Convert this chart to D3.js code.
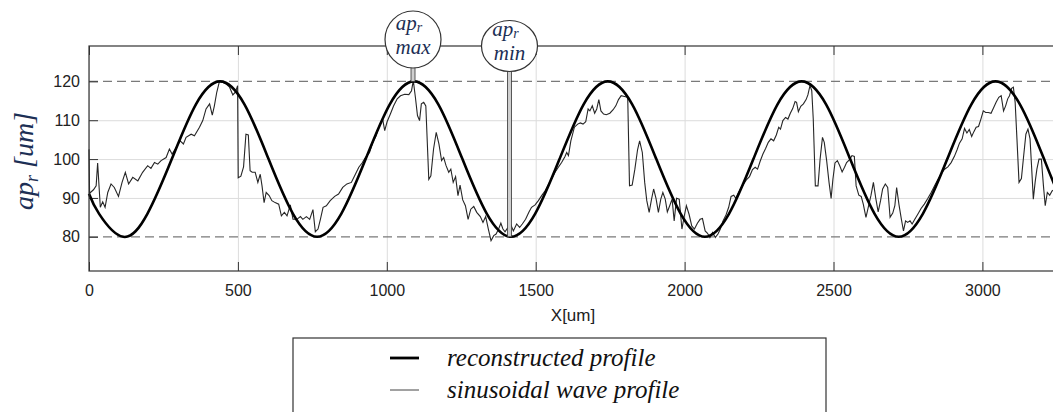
<html>
<head>
    <meta charset="UTF-8" />
    <script src="https://d3js.org/d3.v7.min.js"></script>
    <style>
        body { margin: 0; background: white; }
        .gridlines line { stroke: #dcdcdc; }
        .gridlines .domain { stroke: none; }
        .axis text { font-family: "Liberation Sans", Arial, sans-serif; font-size: 16px; fill: #222; }
        .axis line { stroke: #333; }
        .axis .domain { stroke: none; }
        .serif { font-family: "Liberation Serif", "Times New Roman", serif; font-style: italic; }
    </style>
</head>
<body>
<svg id="svg1" width="1053" height="412"></svg>
<script>
    // tick values
    const xTicks = [0, 500, 1000, 1500, 2000, 2500, 3000];
    const yTicks = [80, 90, 100, 110, 120];
    const dashedLevels = [80, 120];

    // reconstructed profile (read at peaks, troughs and between)
    const reconX = [0, 34, 115, 196, 278, 359, 440, 522, 603, 685, 766, 847, 929, 1010, 1091, 1173, 1254, 1336,
        1417, 1498, 1580, 1661, 1742, 1824, 1905, 1987, 2068, 2149, 2231, 2312, 2393, 2475, 2556, 2638,
        2719, 2800, 2882, 2963, 3044, 3126, 3207, 3289, 3370];
    const reconY = [91.1, 85.9, 80, 85.9, 100, 114.1, 120, 114.1, 100, 85.9, 80, 85.9, 100, 114.1, 120, 114.1, 100, 85.9,
        80, 85.9, 100, 114.1, 120, 114.1, 100, 85.9, 80, 85.9, 100, 114.1, 120, 114.1, 100, 85.9,
        80, 85.9, 100, 114.1, 120, 114.1, 100, 85.9, 80];

    // sinusoidal wave profile (measured, noisy)
    const waveX = [0, 2, 15, 24, 29, 38, 46, 54, 63, 74, 85, 99, 111, 122, 133, 147, 164, 180, 197, 208, 220, 231, 242,
        259, 270, 279, 293, 306, 317, 326, 343, 354, 371, 382, 393, 405, 414, 421, 429, 438, 450, 461, 472, 483,
        492, 499, 501, 510, 519, 527, 535, 541, 548, 558, 567, 575, 581, 588, 595, 605, 614, 625, 637, 646, 656,
        665, 676, 685, 698, 710, 718, 730, 741, 752, 760, 769, 777, 786, 797, 810, 825, 838, 852, 866, 881, 892,
        906, 917, 928, 942, 953, 964, 975, 986, 993, 1001, 1012, 1023, 1035, 1046, 1060, 1074, 1083, 1089, 1096,
        1103, 1110, 1116, 1124, 1131, 1141, 1148, 1157, 1166, 1175, 1184, 1191, 1199, 1208, 1215, 1223, 1231,
        1239, 1246, 1255, 1264, 1273, 1282, 1292, 1302, 1314, 1323, 1332, 1341, 1350, 1359, 1367, 1376, 1383,
        1390, 1397, 1404, 1417, 1425, 1436, 1446, 1455, 1466, 1477, 1486, 1498, 1509, 1520, 1531, 1542, 1554,
        1565, 1576, 1587, 1598, 1604, 1610, 1618, 1630, 1641, 1650, 1659, 1668, 1676, 1682, 1690, 1698, 1705,
        1712, 1719, 1728, 1737, 1749, 1760, 1769, 1778, 1787, 1798, 1809, 1815, 1824, 1833, 1842, 1849, 1858,
        1866, 1873, 1881, 1889, 1896, 1904, 1912, 1920, 1927, 1935, 1942, 1950, 1958, 1965, 1973, 1982, 1991,
        1999, 2006, 2015, 2024, 2033, 2043, 2052, 2060, 2069, 2077, 2085, 2094, 2103, 2112, 2120, 2129, 2139,
        2148, 2156, 2165, 2172, 2181, 2190, 2200, 2209, 2218, 2228, 2237, 2245, 2254, 2263, 2272, 2281, 2290,
        2299, 2308, 2316, 2322, 2330, 2339, 2347, 2355, 2363, 2371, 2376, 2382, 2390, 2399, 2408, 2414, 2421,
        2427, 2432, 2439, 2448, 2455, 2463, 2469, 2477, 2485, 2492, 2498, 2505, 2513, 2521, 2529, 2537, 2544,
        2553, 2562, 2570, 2576, 2585, 2593, 2600, 2609, 2618, 2626, 2634, 2642, 2650, 2658, 2665, 2674, 2682,
        2690, 2699, 2706, 2712, 2720, 2728, 2735, 2742, 2749, 2757, 2764, 2773, 2783, 2794, 2805, 2817, 2828,
        2839, 2850, 2862, 2873, 2884, 2895, 2906, 2915, 2923, 2932, 2940, 2948, 2956, 2964, 2971, 2979, 2987,
        2995, 3003, 3011, 3020, 3029, 3038, 3046, 3055, 3063, 3071, 3078, 3085, 3091, 3098, 3104, 3110, 3116,
        3123, 3131, 3138, 3146, 3153, 3160, 3165, 3171, 3177, 3183, 3190, 3198, 3205, 3211, 3218, 3226, 3234, 3241];
    const waveY = [102.5, 91.2, 92.1, 93.1, 99.0, 87.6, 89.0, 87.6, 91.4, 93.6, 92.7, 90.4, 94.0, 96.6, 93.6, 95.3, 94.4,
        96.6, 98.3, 97.6, 99.1, 98.7, 99.6, 100.4, 102.6, 101.3, 103.0, 104.7, 103.9, 105.6, 106.4, 106.0, 108.2,
        109.9, 112.9, 114.2, 111.3, 113.7, 117.2, 120.0, 119.7, 119.3, 118.5, 116.5, 117.3, 118.9, 95.2, 95.6,
        98.0, 106.4, 106.2, 97.0, 96.6, 96.6, 94.0, 96.1, 93.1, 88.8, 91.4, 90.6, 89.3, 88.8, 88.4, 85.4, 86.3,
        85.4, 88.2, 84.5, 84.5, 85.2, 84.5, 85.2, 84.5, 87.0, 81.3, 82.0, 84.5, 87.6, 88.0, 89.3, 90.4, 91.0,
        92.7, 93.6, 94.0, 95.7, 97.9, 99.0, 100.4, 101.7, 104.3, 106.0, 108.6, 110.3, 107.3, 109.6, 111.6, 113.7,
        115.5, 116.3, 116.7, 116.6, 117.6, 120.2, 115.9, 111.2, 109.9, 114.2, 114.6, 113.7, 94.8, 95.7, 102.6,
        106.9, 103.9, 99.6, 100.4, 98.3, 96.6, 97.4, 94.0, 95.5, 90.6, 93.3, 89.5, 88.0, 84.5, 87.1, 87.8, 86.3,
        85.2, 83.7, 85.2, 82.0, 79.0, 80.3, 80.7, 82.1, 83.5, 82.0, 81.3, 82.1, 83.0, 81.5, 83.3, 82.4, 83.3,
        84.5, 86.3, 87.6, 88.2, 89.3, 90.6, 91.8, 93.3, 95.0, 96.6, 97.9, 99.1, 100.6, 101.7, 100.9, 104.7,
        108.2, 109.0, 109.3, 109.0, 109.6, 112.9, 112.4, 113.7, 111.8, 112.9, 115.3, 112.4, 111.6, 111.4, 111.8,
        112.7, 113.7, 115.3, 116.3, 116.1, 115.9, 93.1, 93.3, 97.4, 102.4, 104.7, 101.7, 94.0, 89.3, 86.3, 89.7,
        92.3, 89.9, 86.3, 89.7, 91.4, 89.7, 86.4, 88.0, 89.7, 84.1, 89.9, 89.7, 82.0, 85.4, 88.0, 85.8, 82.8,
        82.0, 83.5, 84.5, 84.7, 81.5, 80.9, 79.8, 81.1, 79.8, 80.7, 82.0, 84.1, 85.6, 87.6, 90.4, 90.7, 89.9,
        91.4, 92.7, 93.8, 94.8, 95.5, 97.3, 97.9, 97.4, 99.5, 101.3, 102.7, 104.3, 105.2, 104.7, 106.2, 108.2,
        107.7, 109.9, 110.7, 110.3, 111.8, 113.0, 114.8, 114.6, 112.2, 113.6, 114.2, 115.3, 116.5, 118.9, 117.6,
        110.3, 93.1, 93.1, 100.0, 105.6, 104.3, 99.6, 94.0, 89.9, 94.8, 99.0, 99.6, 98.3, 96.7, 97.9, 99.1,
        99.8, 100.9, 100.7, 93.1, 90.7, 90.4, 88.4, 85.0, 88.0, 90.7, 94.0, 89.9, 86.4, 89.3, 92.3, 93.6, 92.7,
        85.0, 86.1, 88.0, 92.7, 88.2, 84.5, 81.5, 84.1, 83.7, 84.1, 83.3, 84.5, 85.8, 87.3, 88.4, 89.9, 91.4,
        93.1, 94.7, 96.3, 97.4, 98.0, 99.1, 100.7, 102.4, 104.1, 105.2, 107.9, 106.7, 107.6, 105.8, 107.0, 108.2,
        108.4, 110.3, 112.4, 112.0, 112.0, 111.8, 113.3, 114.6, 115.9, 116.3, 112.4, 113.7, 115.5, 116.3, 118.2,
        118.5, 114.6, 105.2, 94.0, 95.0, 100.4, 106.4, 107.7, 105.2, 98.3, 89.7, 94.0, 97.4, 100.0, 100.0, 93.1,
        88.0, 91.4, 90.7, 91.8, 92.1];

    // annotation markers
    const markerNames = ["max", "min"];
    const markerX = [1088, 1412];
    const markerY = [120, 80];

    // legend
    const legendNames = ["reconstructed profile", "sinusoidal wave profile"];

    const svg1 = d3.select('svg#svg1');
    const margin = {top: 46, left: 89, bottom: 271};
    const labelColor = "#1c2f55";

    const xScale = d3.scaleLinear().domain([0, 3300]).range([89, 89 + 3300 * 0.2978]);
    const yScale = d3.scaleLinear().domain([71.2, 129.1]).range([271, 46]);
    const plotW = 1100 - margin.left;
    const plotH = margin.bottom - margin.top;

    // background
    svg1.append("rect").attr("x", margin.left).attr("y", margin.top)
        .attr("width", plotW).attr("height", plotH).attr("fill", "white");

    // gridlines
    svg1.append("g").attr("class", "gridlines")
        .attr("transform", "translate(0," + margin.bottom + ")")
        .call(d3.axisBottom(xScale).tickValues(xTicks).tickSize(-plotH).tickFormat(""));
    svg1.append("g").attr("class", "gridlines")
        .attr("transform", "translate(" + margin.left + ",0)")
        .call(d3.axisLeft(yScale).tickValues(yTicks.filter(d => !dashedLevels.includes(d))).tickSize(-plotW).tickFormat(""));

    svg1.selectAll("line.dashed").data(dashedLevels).join("line")
        .attr("class", "dashed")
        .attr("x1", margin.left).attr("x2", margin.left + plotW)
        .attr("y1", d => yScale(d)).attr("y2", d => yScale(d))
        .attr("stroke", "#7a7a7a").attr("stroke-width", 1.2)
        .attr("stroke-dasharray", "9,5");

    // axes with inward ticks
    svg1.append("g").attr("class", "axis")
        .attr("transform", "translate(0," + margin.bottom + ")")
        .call(d3.axisBottom(xScale).tickValues(xTicks).tickFormat(d3.format("d"))
            .tickSizeInner(-9).tickSizeOuter(0).tickPadding(14));
    svg1.append("g").attr("class", "axis")
        .attr("transform", "translate(0," + margin.top + ")")
        .call(d3.axisTop(xScale).tickValues(xTicks).tickSizeInner(-9).tickSizeOuter(0).tickFormat(""));
    svg1.append("g").attr("class", "axis")
        .attr("transform", "translate(" + margin.left + ",0)")
        .call(d3.axisLeft(yScale).tickValues(yTicks).tickSizeInner(-9).tickSizeOuter(0).tickPadding(9));

    // lines
    const waveLine = d3.line().x((d, i) => xScale(waveX[i])).y(d => yScale(d));
    const reconLine = d3.line().x((d, i) => xScale(reconX[i])).y(d => yScale(d)).curve(d3.curveNatural);

    svg1.append("path").attr("d", waveLine(waveY))
        .attr("fill", "none").attr("stroke", "#262626").attr("stroke-width", 1.1);
    svg1.append("path").attr("d", reconLine(reconY))
        .attr("fill", "none").attr("stroke", "black").attr("stroke-width", 2.6);

    // frame
    svg1.append("rect").attr("x", margin.left).attr("y", margin.top)
        .attr("width", plotW).attr("height", plotH)
        .attr("fill", "none").attr("stroke", "#333").attr("stroke-width", 1.2);

    // axis labels
    svg1.append("text").attr("x", 573).attr("y", 321).attr("text-anchor", "middle")
        .style("font-family", "'Liberation Sans', Arial, sans-serif").style("font-size", "17px").attr("fill", "#222")
        .text("X[um]");

    const yLab = svg1.append("text").attr("class", "serif")
        .attr("transform", "translate(33,161) rotate(-90)")
        .attr("text-anchor", "middle")
        .style("font-size", "28px").attr("fill", labelColor);
    yLab.append("tspan").text("ap");
    yLab.append("tspan").attr("dy", 5).style("font-size", "18px").text("r");
    yLab.append("tspan").attr("dy", -5).text(" [um]");

    // annotation markers
    const circCY = [39.5, 46];
    const circRY = [28.5, 25.5];
    const marks = svg1.selectAll("g.marker").data(markerNames).join("g").attr("class", "marker");

    marks.append("rect")
        .attr("x", (d, i) => xScale(markerX[i]) - 2)
        .attr("y", (d, i) => circCY[i] + circRY[i] - 1)
        .attr("width", 4)
        .attr("height", (d, i) => yScale(markerY[i]) - (circCY[i] + circRY[i]) + 1)
        .attr("fill", "#cfcfcf").attr("stroke", "#333").attr("stroke-width", 0.8);

    marks.append("ellipse")
        .attr("cx", (d, i) => xScale(markerX[i]))
        .attr("cy", (d, i) => circCY[i])
        .attr("rx", 28).attr("ry", (d, i) => circRY[i])
        .attr("fill", "white").attr("stroke", "#333").attr("stroke-width", 1.2);

    const top1 = marks.append("text").attr("class", "serif")
        .attr("x", (d, i) => xScale(markerX[i]) - 4)
        .attr("y", (d, i) => circCY[i] - 10)
        .attr("text-anchor", "middle").style("font-size", "21px").attr("fill", labelColor);
    top1.append("tspan").text("ap");
    top1.append("tspan").attr("dy", 2).style("font-size", "14px").text("r");

    marks.append("text").attr("class", "serif")
        .attr("x", (d, i) => xScale(markerX[i]))
        .attr("y", (d, i) => circCY[i] + 14)
        .attr("text-anchor", "middle").style("font-size", "21px").attr("fill", labelColor)
        .text(d => d);

    // legend
    svg1.append("rect").attr("x", 293).attr("y", 338).attr("width", 533).attr("height", 100)
        .attr("fill", "white").attr("stroke", "#333").attr("stroke-width", 1.2);

    const legendWidths = [2.8, 1];
    const legendRows = svg1.selectAll("g.legend").data(legendNames).join("g")
        .attr("class", "legend")
        .attr("transform", (d, i) => "translate(0," + (358 + i * 32) + ")");
    legendRows.append("line").attr("x1", 390).attr("x2", 419)
        .attr("stroke", (d, i) => i == 0 ? "black" : "#444")
        .attr("stroke-width", (d, i) => legendWidths[i]);
    legendRows.append("text").attr("class", "serif").attr("x", 447).attr("y", 8)
        .style("font-size", "25px").attr("fill", "#111")
        .text(d => d);
</script>
</body>
</html>
